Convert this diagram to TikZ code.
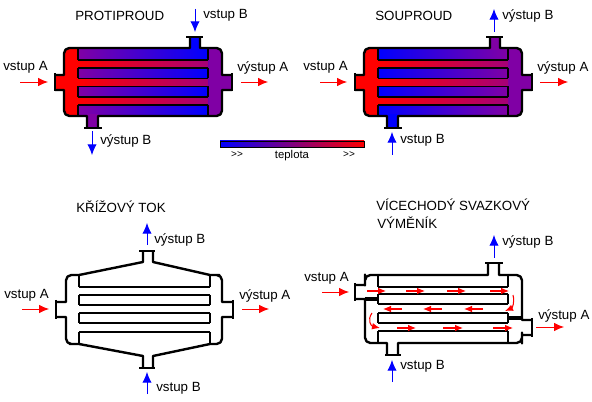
\documentclass[tikz,border=0pt]{standalone}
\usepackage{fontspec}
\setmainfont{Liberation Sans}
\usetikzlibrary{arrows.meta}
\definecolor{fialA}{RGB}{128,0,165}
\definecolor{fialB}{RGB}{165,0,120}
\tikzset{
  wall/.style={line width=1.8pt,black,line join=round},
  sheet/.style={line width=1.3pt,black},
  flange/.style={line width=2.2pt,black},
  baffle/.style={line width=2.6pt,black},
  tokA/.style={red,line width=.7pt,-{Latex[length=7.5pt,width=6.5pt]}},
  tokB/.style={blue,line width=.7pt,-{Latex[length=8pt,width=7pt]}},
  tokIn/.style={red,line width=.8pt,-{Latex[length=6pt,width=5pt]}},
  popis/.style={anchor=west,inner sep=0pt,yshift=-1.2pt,font=\fontsize{10}{10}\selectfont,text=black},
  maly/.style={inner sep=0pt,yshift=-.6pt,font=\fontsize{8.5}{10}\selectfont,text=black},
  malinky/.style={inner sep=0pt,font=\fontsize{7.5}{8}\selectfont,text=black}
}
% barevny vymenik: #1 posun, #2 plast vlevo, #3 plast vpravo, #4 horni hrdlo, #5 spodni hrdlo
\newcommand{\barevny}[5]{
  \begin{scope}[shift={(#1,0)}]
    \fill[red,rounded corners=4pt] (64,48) rectangle (100,116);
    \fill[fialA,rounded corners=4pt] (190,48) rectangle (222,116);
    \shade[left color=#2,right color=#3] (78,48) rectangle (208,116);
    \foreach \y in {60,78.5,97}
      \shade[left color=red,right color=fialB] (78,\y) rectangle (208,\y+8);
    \fill[red] (55,75) rectangle (66,90);
    \fill[fialA] (220,75) rectangle (232,90);
    \fill[#4] (190,37) rectangle (200,50);
    \fill[#5] (87,114) rectangle (98,128);
    \foreach \y in {60,68,78.5,86.5,97,105}
      \draw[sheet] (78,\y) -- (208,\y);
    \foreach \ya/\yb in {48/60,68/78.5,86.5/97,105/116} {
      \draw[sheet] (78,\ya) -- (78,\yb);
      \draw[sheet] (208,\ya) -- (208,\yb);
    }
    \draw[wall] (190,37) -- (190,48) -- (100,48) [rounded corners=4pt] -- (64,48) -- (64,65)
      [sharp corners] -- (64,75) -- (55,75) (55,90) -- (64,90) -- (64,100) [rounded corners=4pt] -- (64,116) -- (75,116)
      [sharp corners] -- (87,116) -- (87,128) (98,128) -- (98,116) -- (110,116) [rounded corners=4pt] -- (222,116) -- (222,100)
      [sharp corners] -- (222,90) -- (232,90) (232,75) -- (222,75) -- (222,65) [rounded corners=4pt] -- (222,48) -- (210,48)
      [sharp corners] -- (200,48) -- (200,37);
    \draw[flange] (186,37) -- (203,37);
    \draw[flange] (84,128) -- (102,128);
    \draw[flange] (55,73) -- (55,91);
    \draw[flange] (232,73) -- (232,91);
  \end{scope}
}
\begin{document}
\begin{tikzpicture}[x=.75pt,y=-.75pt]
  \useasboundingbox (0,0) rectangle (592,402);
  \barevny{0}{fialA}{blue}{blue}{fialA}
  \barevny{300}{blue}{fialA}{fialA}{blue}
  % protiproud
  \node[popis] (titleP) at (75,14) {PROTIPROUD};
  \node[popis] (inAP) at (3,66) {vstup A};
  \node[popis] (outAP) at (237,66) {výstup A};
  \node[popis] (inBP) at (203,14) {vstup B};
  \node[popis] (outBP) at (100,139) {výstup B};
  \draw[tokA] (20,82) -- (48,82);
  \draw[tokA] (241,82) -- (268,82);
  \draw[tokB] (195,9) -- (195,32);
  \draw[tokB] (92,131) -- (92,155);
  % teplota
  \shade[left color=blue,right color=red] (220,141) rectangle (364,147);
  \draw[black,line width=.6pt] (220,141) rectangle (364,147);
  \node[malinky] (zleva) at (237,155) {{>}{>}};
  \node[maly] (teplota) at (292,155) {teplota};
  \node[malinky] (zprava) at (349,155) {{>}{>}};
  % souproud
  \node[popis] (titleS) at (375,14) {SOUPROUD};
  \node[popis] (inAS) at (303,66) {vstup A};
  \node[popis] (outAS) at (537,66) {výstup A};
  \node[popis] (outBS) at (502,14) {výstup B};
  \node[popis] (inBS) at (400,139) {vstup B};
  \draw[tokA] (320,82) -- (347,82);
  \draw[tokA] (540,82) -- (568,82);
  \draw[tokB] (494,32) -- (494,9);
  \draw[tokB] (392,155) -- (392,132);
  % krizovy tok
  \node[popis] (titleK) at (76,205) {KŘÍŽOVÝ TOK};
  \node[popis] (inAK) at (4,294) {vstup A};
  \node[popis] (outAK) at (239,294) {výstup A};
  \node[popis] (outBK) at (154,238) {výstup B};
  \node[popis] (inBK) at (156,387) {vstup B};
  \draw[wall] (143,251) -- (143,262) -- (79,275) -- (75,275) [rounded corners=4pt] -- (66,275) -- (66,290)
    [sharp corners] -- (66,302) -- (56,302) (56,317) -- (66,317) -- (66,330) [rounded corners=4pt] -- (66,344) -- (75,344)
    [sharp corners] -- (79,344) -- (143,356) -- (143,368) (153,368) -- (153,356) -- (210,344) -- (214,344) [rounded corners=4pt] -- (222,344) -- (222,330)
    [sharp corners] -- (222,317) -- (233,317) (233,302) -- (222,302) -- (222,290) [rounded corners=4pt] -- (222,275) -- (214,275)
    [sharp corners] -- (210,275) -- (153,262) -- (153,251);
  \foreach \y in {287,295,305,313,323,332}
    \draw[wall] (79,\y) -- (210,\y);
  \foreach \ya/\yb in {275/287,295/305,313/323,332/344} {
    \draw[wall] (79,\ya) -- (79,\yb);
    \draw[wall] (210,\ya) -- (210,\yb);
  }
  \draw[flange] (139,251) -- (155,251);
  \draw[flange] (139,368) -- (155,368);
  \draw[flange] (56,300) -- (56,319);
  \draw[flange] (233,300) -- (233,319);
  \draw[tokA] (22,309) -- (49,309);
  \draw[tokA] (242,309) -- (269,309);
  \draw[tokB] (147,245) -- (147,223);
  \draw[tokB] (147,394) -- (147,372);
  % vicechody
  \node[popis] (titleV) at (376,203) {VÍCECHODÝ SVAZKOVÝ};
  \node[popis] (titleW) at (377,221) {VÝMĚNÍK};
  \node[popis] (inAV) at (304,277) {vstup A};
  \node[popis] (outAV) at (538,314) {výstup A};
  \node[popis] (outBV) at (502,240) {výstup B};
  \node[popis] (inBV) at (400,365) {vstup B};
  \draw[wall] (488,263) -- (488,275) -- (378,275) [rounded corners=4pt] -- (365,275) -- (365,280)
    [sharp corners] -- (365,285) -- (355,285) (355,299) -- (365,299)
    (365,299) -- (365,330) [rounded corners=4pt] -- (365,343) -- (375,343)
    [sharp corners] -- (387,343) -- (387,355) (398,355) -- (398,343) -- (410,343) [rounded corners=4pt] -- (522,343) -- (522,338)
    [sharp corners] -- (522,335) -- (532,335) (532,320) -- (522,320)
    -- (522,290) [rounded corners=4pt] -- (522,275) -- (510,275)
    [sharp corners] -- (499,275) -- (499,263);
  \draw[baffle] (365,299) -- (378,299);
  \draw[baffle] (508,318) -- (522,318);
  \foreach \y in {287,294,304,313,323,331}
    \draw[wall] (378,\y) -- (508,\y);
  \foreach \ya/\yb in {275/287,294/304,313/323,331/343} {
    \draw[sheet] (378,\ya) -- (378,\yb);
    \draw[sheet] (508,\ya) -- (508,\yb);
  }
  \draw[flange] (485,263) -- (503,263);
  \draw[flange] (385,355) -- (401,355);
  \draw[flange] (355,283) -- (355,301);
  \draw[flange] (532,318) -- (532,337);
  \foreach \xa/\xb in {367/386,406/425,447/466,490/509}
    \draw[tokIn] (\xa,291) -- (\xb,291);
  \foreach \xa/\xb in {402/383,442/423,483/464}
    \draw[tokIn] (\xa,309) -- (\xb,309);
  \foreach \xa/\xb in {397/416,443/463,493/513}
    \draw[tokIn] (\xa,328) -- (\xb,328);
  \draw[tokIn] (513,295) .. controls (515,303) and (512,308) .. (505,311);
  \draw[tokIn] (372,313) .. controls (367,320) and (371,326) .. (380,328);
  \draw[tokA] (322,292) -- (349,292);
  \draw[tokA] (536,327) -- (564,327);
  \draw[tokB] (494,258) -- (494,235);
  \draw[tokB] (392,382) -- (392,360);
\end{tikzpicture}
\end{document}
